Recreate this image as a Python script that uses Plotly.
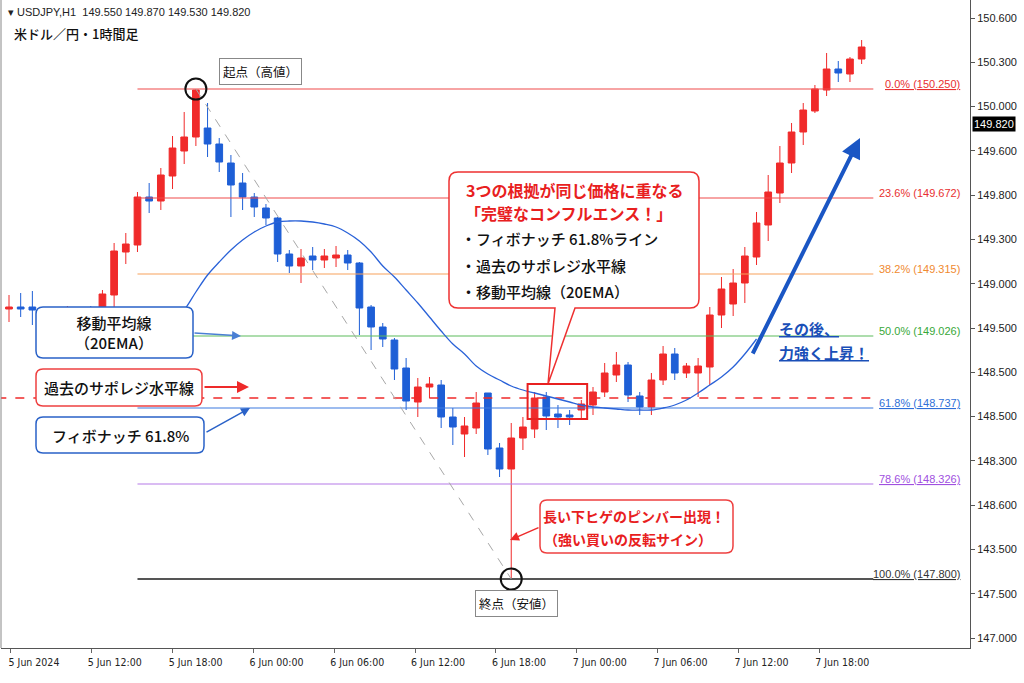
import plotly.graph_objects as go

# USDJPY 1H candles (red = up, blue = down)
opens = [149.15, 149.16, 149.16, 149.12, 149.13, 149.11, 149.12, 149.14, 149.16, 149.22,
         149.435, 149.47, 149.71, 149.69, 149.815, 149.94, 150.01, 150.055, 149.975, 149.88,
         149.78, 149.71, 149.655, 149.605, 149.425, 149.365, 149.415, 149.395, 149.405, 149.42,
         149.38, 149.16, 149.06, 148.995, 148.855, 148.685, 148.76, 148.77, 148.61, 148.525,
         148.555, 148.73, 148.455, 148.35, 148.505, 148.55, 148.71, 148.625, 148.62, 148.645,
         148.67, 148.735, 148.82, 148.87, 148.715, 148.66, 148.795, 148.925, 148.83, 148.83,
         148.86, 149.12, 149.175, 149.28, 149.41, 149.57, 149.73, 149.88, 150.035, 150.14,
         150.245, 150.35, 150.325, 150.40]
highs = [149.22, 149.23, 149.24, 149.15, 149.15, 149.165, 149.15, 149.165, 149.245, 149.48,
         149.53, 149.735, 149.78, 149.855, 150.015, 150.135, 150.25, 150.18, 150.005, 149.92,
         149.83, 149.73, 149.675, 149.61, 149.445, 149.45, 149.46, 149.45, 149.465, 149.445,
         149.385, 149.17, 149.08, 149.005, 148.905, 148.805, 148.81, 148.795, 148.655, 148.61,
         148.735, 148.73, 148.48, 148.58, 148.61, 148.735, 148.735, 148.67, 148.645, 148.695,
         148.76, 148.88, 148.935, 148.885, 148.735, 148.83, 148.965, 148.955, 148.88, 148.905,
         149.16, 149.31, 149.35, 149.46, 149.635, 149.82, 149.965, 150.08, 150.18, 150.27,
         150.43, 150.39, 150.41, 150.495]
lows = [149.085, 149.11, 149.07, 149.07, 149.08, 149.06, 149.08, 149.09, 149.12, 149.135,
        149.375, 149.435, 149.63, 149.645, 149.75, 149.875, 149.965, 149.91, 149.835, 149.61,
        149.645, 149.61, 149.57, 149.385, 149.33, 149.28, 149.345, 149.355, 149.36, 149.345,
        149.02, 148.945, 148.96, 148.795, 148.645, 148.61, 148.705, 148.555, 148.47, 148.41,
        148.525, 148.42, 148.31, 147.80, 148.445, 148.505, 148.545, 148.555, 148.57, 148.605,
        148.62, 148.71, 148.785, 148.685, 148.62, 148.62, 148.77, 148.795, 148.805, 148.71,
        148.77, 149.055, 149.115, 149.18, 149.37, 149.49, 149.68, 149.83, 149.97, 150.13,
        150.215, 150.285, 150.285, 150.375]
closes = [149.16, 149.15, 149.145, 149.13, 149.11, 149.13, 149.14, 149.12, 149.225, 149.44,
          149.475, 149.71, 149.69, 149.82, 149.955, 150.01, 150.245, 149.975, 149.885, 149.77,
          149.71, 149.66, 149.605, 149.425, 149.365, 149.405, 149.395, 149.415, 149.42, 149.38,
          149.155, 149.06, 149.00, 148.85, 148.69, 148.76, 148.775, 148.61, 148.56, 148.565,
          148.68, 148.45, 148.35, 148.505, 148.56, 148.705, 148.615, 148.61, 148.61, 148.675,
          148.735, 148.83, 148.87, 148.72, 148.66, 148.795, 148.925, 148.83, 148.865, 148.865,
          149.12, 149.25, 149.28, 149.415, 149.58, 149.735, 149.88, 150.035, 150.145, 150.25,
          150.35, 150.33, 150.40, 150.46]
bars = list(range(len(opens)))

# 20EMA as drawn on the chart
ema_bars = list(range(13, 65))
ema_values = [149.02, 149.085, 149.145, 149.235, 149.32, 149.385, 149.445, 149.495, 149.535, 149.565,
              149.585, 149.59, 149.59, 149.585, 149.575, 149.56, 149.53, 149.49, 149.435, 149.365,
              149.31, 149.245, 149.18, 149.11, 149.04, 148.975, 148.925, 148.865, 148.825, 148.795,
              148.765, 148.745, 148.73, 148.715, 148.70, 148.685, 148.67, 148.66, 148.655, 148.65,
              148.645, 148.645, 148.645, 148.655, 148.67, 148.695, 148.73, 148.77, 148.81, 148.86,
              148.925, 149.00]

# fibonacci retracement (line level as drawn, label text as written)
fib_names = ['0.0%', '23.6%', '38.2%', '50.0%', '61.8%', '78.6%', '100.0%']
fib_texts = ['150.250', '149.672', '149.315', '149.026', '148.737', '148.326', '147.800']
fib_levels = [150.25, 149.705, 149.325, 149.015, 148.655, 148.275, 147.80]
sr_level = 148.705

x_tick_labels = ['5 Jun 2024', '5 Jun 12:00', '5 Jun 18:00', '6 Jun 00:00', '6 Jun 06:00',
                 '6 Jun 12:00', '6 Jun 18:00', '7 Jun 00:00', '7 Jun 06:00', '7 Jun 12:00',
                 '7 Jun 18:00']
y_tick_labels = ['150.600', '150.300', '150.000', '149.600', '149.800', '149.300', '149.000',
                 '149.500', '148.500', '148.500', '148.300', '148.600', '143.500', '147.500',
                 '147.000']

# ---- geometry / styles ----
W, H = 1024, 683
L, R, T, B = 1, 970, 0, 648          # plot area in pixels
X0, DX = 9, 11.68                    # pixel of bar 0, pixels per bar
Y_TOP, PPY = 150.695, 200            # price at top edge, pixels per yen

RED = '#F02A2A'
BLUE = '#1E5FD6'
JP = 'Noto Sans CJK JP'
fib_colors = ['#F04A4A', '#F04A4A', '#F7A25C', '#5DBB5D', '#3C7AE0', '#B57AE8', '#555555']
fib_label_colors = ['#E83030', '#E83030', '#F08A30', '#38A838', '#2F6FD8', '#A050E0', '#333333']
fib_underline = [True, False, False, False, True, True, True]


def fx(p):
    return (p - L) / (R - L)


def fy(p):
    return (B - p) / (B - T)


def rbox(x0, y0, x1, y1, r=7, tail=None):
    d = f"M{fx(x0 + r)},{fy(y0)} L{fx(x1 - r)},{fy(y0)} Q{fx(x1)},{fy(y0)} {fx(x1)},{fy(y0 + r)} "
    d += f"L{fx(x1)},{fy(y1 - r)} Q{fx(x1)},{fy(y1)} {fx(x1 - r)},{fy(y1)} "
    if tail:
        a, b, tx, ty = tail
        d += f"L{fx(b)},{fy(y1)} L{fx(tx)},{fy(ty)} L{fx(a)},{fy(y1)} "
    d += f"L{fx(x0 + r)},{fy(y1)} Q{fx(x0)},{fy(y1)} {fx(x0)},{fy(y1 - r)} "
    d += f"L{fx(x0)},{fy(y0 + r)} Q{fx(x0)},{fy(y0)} {fx(x0 + r)},{fy(y0)} Z"
    return d


fig = go.Figure()

# fib lines
for lvl, col, name in zip(fib_levels, fib_colors, fib_names):
    fig.add_trace(go.Scatter(x=[11, 74], y=[lvl, lvl], mode='lines',
                             line=dict(color=col, width=2 if name == '100.0%' else 1.2)))
# past support / resistance
fig.add_trace(go.Scatter(x=[-1, 74], y=[sr_level, sr_level], mode='lines',
                         line=dict(color=RED, width=1.5, dash='dash')))

fig.add_trace(go.Candlestick(x=bars, open=opens, high=highs, low=lows, close=closes,
                             increasing=dict(line=dict(color=RED, width=1), fillcolor=RED),
                             decreasing=dict(line=dict(color=BLUE, width=1), fillcolor=BLUE),
                             whiskerwidth=0))

fig.add_trace(go.Scatter(x=ema_bars, y=ema_values, mode='lines', line_shape='spline',
                         line=dict(color='#2A62D8', width=1.3)))

# high -> low diagonal and circles
fig.add_trace(go.Scatter(x=[16, 43], y=[highs[16], lows[43]], mode='lines',
                         line=dict(color='#A8A8A8', width=1, dash='dash')))
fig.add_trace(go.Scatter(x=[16, 43], y=[highs[16], lows[43]], mode='markers',
                         marker=dict(symbol='circle-open', size=21, color='#111',
                                     line=dict(width=2, color='#111'))))

shapes = [
    dict(type='path', path=rbox(36, 307, 193, 358), line=dict(color='#2A62C8', width=1.5)),
    dict(type='path', path=rbox(36, 369, 202, 406), line=dict(color='#EE4040', width=1.5)),
    dict(type='path', path=rbox(36, 417, 204, 453), line=dict(color='#2A62C8', width=1.5)),
    dict(type='path', path=rbox(449, 172, 699, 308, r=9, tail=(555, 575, 548, 384)),
         line=dict(color='#EE3030', width=1.5)),
    dict(type='path', path=rbox(540, 500, 733, 553), line=dict(color='#EE4040', width=1.5)),
]
for s in shapes:
    s.update(xref='paper', yref='paper', fillcolor='white', layer='above')
shapes.append(dict(type='rect', xref='x', yref='y', x0=44.4, x1=49.5, y0=148.60, y1=148.775,
                   line=dict(color='#E82020', width=2), layer='above'))
# frame left edge
shapes.append(dict(type='line', xref='paper', yref='paper', x0=0, x1=0, y0=0, y1=1,
                   line=dict(color='#888', width=1)))


def txt(text, x, y, size=15, color='#111', xanchor='center', weight='normal', **kw):
    font = dict(family=JP, size=size, color=color, weight=weight)
    font.update(kw.pop('font', {}))
    return dict(text=text, x=fx(x), y=fy(y), xref='paper', yref='paper', showarrow=False,
                xanchor=xanchor, yanchor='middle', font=font, **kw)


def arrow(tail, head, color, width=1.5, size=1.2):
    return dict(text='', x=fx(head[0]), y=fy(head[1]), xref='paper', yref='paper',
                ax=tail[0] - head[0], ay=tail[1] - head[1], showarrow=True,
                arrowhead=2, arrowsize=size, arrowwidth=width, arrowcolor=color, standoff=0)


ann = [
    txt('\u25BE USDJPY,H1\u00a0\u00a0149.550 149.870 149.530 149.820', 6, 12, size=11,
        color='#222', xanchor='left', font=dict(family='Liberation Sans')),
    txt('米ドル／円・1時間足', 12, 33, size=13, xanchor='left', weight=500),
    txt('起点（高値）', 260, 71, size=12.5, bgcolor='white', bordercolor='#888',
        borderwidth=1, borderpad=3),
    txt('終点（安値）', 516, 603, size=12.5, bgcolor='white', bordercolor='#888',
        borderwidth=1, borderpad=3),
    txt('移動平均線<br>（20EMA）', 114, 333, size=15, weight=500),
    txt('過去のサポレジ水平線', 119, 387, size=15, weight=500),
    txt('フィボナッチ 61.8%', 120, 435, size=15, weight=500),
    txt('3つの根拠が同じ価格に重なる', 574, 190, size=16, color='#E8201E', weight='bold'),
    txt('「完璧なコンフルエンス！」', 568, 213, size=16, color='#E8201E', weight='bold'),
    txt('・フィボナッチ 61.8%ライン', 459, 239, size=15, xanchor='left', weight=500),
    txt('・過去のサポレジ水平線', 459, 265, size=15, xanchor='left', weight=500),
    txt('・移動平均線（20EMA）', 459, 291, size=15, xanchor='left', weight=500),
    txt('長い下ヒゲのピンバー出現！', 634, 516, size=14, color='#E8201E', weight='bold'),
    txt('（強い買いの反転サイン）', 628, 539, size=14, color='#E8201E', weight='bold'),
    txt('その後、', 777, 328, size=15, color='#1A4FB8', xanchor='left', weight='bold',
        font=dict(lineposition='under')),
    txt('力強く上昇！', 777, 352, size=15, color='#1A4FB8', xanchor='left', weight='bold',
        font=dict(lineposition='under')),
    arrow((193, 333), (241, 336), '#4A7FD4'),
    arrow((203, 387), (249, 387), '#EE2A2A', width=2),
    arrow((205, 433), (250, 408), '#2A62C8'),
    arrow((540, 527), (510, 540), '#EE2A2A', width=1.5),
    arrow((752, 355), (860, 138), '#1A56C4', width=4, size=1),
]

for name, t, lvl, col, ul in zip(fib_names, fib_texts, fib_levels, fib_label_colors, fib_underline):
    f = dict(family='Liberation Sans', size=11, color=col)
    if ul:
        f['lineposition'] = 'under'
    ann.append(dict(text=f'{name} ({t})', x=fx(962), y=lvl, xref='paper', yref='y',
                    xanchor='right', yanchor='middle', yshift=5, showarrow=False, font=f))

# current price marker
ann.append(dict(text='149.820', x=fx(972), y=fy(124), xref='paper', yref='paper',
                xanchor='left', yanchor='middle', showarrow=False, bgcolor='#000',
                borderpad=1, font=dict(family='Liberation Sans', size=11, color='white')))

x_tickvals = [0.17 + 6.92 * k for k in range(len(x_tick_labels))]
y_tickvals = [150.605 - 0.22145 * k for k in range(len(y_tick_labels))]

fig.update_layout(
    width=W, height=H, margin=dict(l=L, r=W - R, t=T, b=H - B),
    paper_bgcolor='white', plot_bgcolor='white', showlegend=False, hovermode=False,
    boxgap=0.18, shapes=shapes, annotations=ann,
)
fig.update_xaxes(range=[(L - X0) / DX, (R - X0) / DX], rangeslider_visible=False,
                 showgrid=False, zeroline=False, showline=True, linecolor='#555',
                 ticks='outside', ticklen=4, tickcolor='#666',
                 tickvals=x_tickvals, ticktext=x_tick_labels, ticklabelshift=23,
                 tickfont=dict(family='Liberation Sans Narrow, DejaVu Sans Condensed, sans-serif',
                               size=10.5, color='#222'))
fig.update_yaxes(range=[Y_TOP - (B - T) / PPY, Y_TOP], side='right',
                 showgrid=False, zeroline=False, showline=True, linecolor='#555',
                 ticks='outside', ticklen=4, tickcolor='#555',
                 tickvals=y_tickvals, ticktext=y_tick_labels,
                 tickfont=dict(family='Liberation Sans', size=11, color='#222'))

fig.write_html('out.html', config={'displayModeBar': False},
               post_script="document.body.style.margin='0';")
